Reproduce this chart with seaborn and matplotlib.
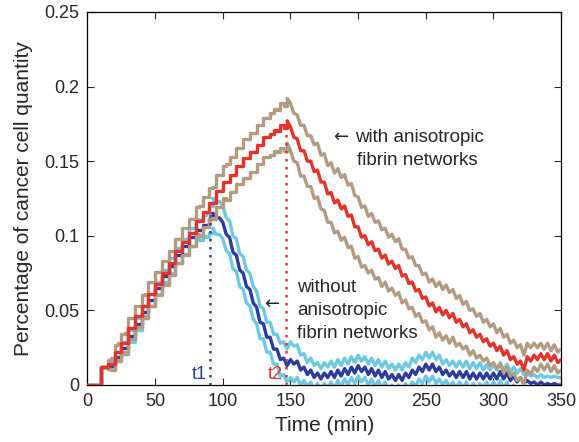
import numpy as np
import matplotlib
matplotlib.use("Agg")
import matplotlib.pyplot as plt
import seaborn as sns

# Time axis in minutes (2.5 min sampling)
time_min = np.arange(0, 350.01, 2.5)

# With anisotropic fibrin networks: mean and standard deviation
with_mean = [
    0, 0, 0, 0, 0.012, 0.012, 0.014, 0.014, 0.022, 0.022,
    0.028, 0.028, 0.038, 0.038, 0.046, 0.046, 0.053, 0.053, 0.061, 0.061,
    0.068, 0.068, 0.075, 0.075, 0.082, 0.082, 0.090, 0.090, 0.096, 0.096,
    0.102, 0.102, 0.110, 0.110, 0.116, 0.116, 0.122, 0.122, 0.130, 0.130,
    0.136, 0.136, 0.141, 0.141, 0.147, 0.147, 0.152, 0.152, 0.156, 0.156,
    0.161, 0.161, 0.166, 0.166, 0.168, 0.171, 0.170, 0.174, 0.172, 0.177,
    0.173, 0.166, 0.165, 0.157, 0.157, 0.150, 0.150, 0.143, 0.144, 0.136,
    0.136, 0.128, 0.129, 0.122, 0.124, 0.118, 0.120, 0.113, 0.114, 0.106,
    0.106, 0.099, 0.100, 0.094, 0.096, 0.090, 0.091, 0.085, 0.087, 0.081,
    0.083, 0.078, 0.080, 0.073, 0.074, 0.068, 0.069, 0.063, 0.064, 0.058,
    0.059, 0.053, 0.055, 0.049, 0.052, 0.047, 0.050, 0.045, 0.048, 0.042,
    0.044, 0.039, 0.041, 0.035, 0.037, 0.032, 0.034, 0.029, 0.031, 0.026,
    0.028, 0.023, 0.026, 0.020, 0.023, 0.017, 0.019, 0.014, 0.016, 0.010,
    0.019, 0.016, 0.020, 0.017, 0.021, 0.017, 0.021, 0.016, 0.020, 0.015,
    0.017,
]
with_std = [
    0, 0, 0, 0, 0, 0, 0.003, 0.004, 0.005, 0.006,
    0.006, 0.007, 0.007, 0.007, 0.007, 0.007, 0.007, 0.008, 0.008, 0.008,
    0.008, 0.008, 0.008, 0.008, 0.008, 0.008, 0.008, 0.008, 0.009, 0.009,
    0.009, 0.009, 0.009, 0.010, 0.010, 0.010, 0.010, 0.011, 0.011, 0.011,
    0.011, 0.012, 0.012, 0.012, 0.012, 0.012, 0.013, 0.013, 0.013, 0.013,
    0.013, 0.013, 0.013, 0.013, 0.014, 0.014, 0.014, 0.015, 0.015, 0.015,
    0.016, 0.016, 0.016, 0.017, 0.017, 0.017, 0.017, 0.018, 0.018, 0.018,
    0.019, 0.019, 0.020, 0.020, 0.021, 0.021, 0.021, 0.021, 0.021, 0.021,
    0.020, 0.020, 0.020, 0.019, 0.019, 0.019, 0.019, 0.019, 0.018, 0.018,
    0.018, 0.018, 0.018, 0.018, 0.017, 0.017, 0.017, 0.017, 0.016, 0.016,
    0.016, 0.016, 0.016, 0.017, 0.017, 0.017, 0.017, 0.017, 0.016, 0.016,
    0.016, 0.015, 0.015, 0.015, 0.014, 0.014, 0.014, 0.013, 0.013, 0.013,
    0.013, 0.012, 0.012, 0.012, 0.011, 0.011, 0.011, 0.011, 0.011, 0.010,
    0.009, 0.009, 0.008, 0.008, 0.007, 0.007, 0.007, 0.007, 0.007, 0.007,
    0.007,
]

# Without anisotropic fibrin networks: mean and standard deviation
without_mean = [
    0, 0, 0, 0, 0.012, 0.012, 0.013, 0.013, 0.019, 0.019,
    0.025, 0.025, 0.033, 0.033, 0.041, 0.041, 0.049, 0.049, 0.057, 0.057,
    0.065, 0.065, 0.073, 0.073, 0.080, 0.080, 0.087, 0.087, 0.093, 0.093,
    0.099, 0.099, 0.104, 0.104, 0.107, 0.107, 0.111, 0.115, 0.112, 0.112,
    0.109, 0.101, 0.099, 0.089, 0.087, 0.077, 0.075, 0.066, 0.064, 0.055,
    0.052, 0.042, 0.041, 0.032, 0.032, 0.024, 0.024, 0.017, 0.018, 0.013,
    0.017, 0.014, 0.016, 0.010, 0.012, 0.007, 0.010, 0.005, 0.008, 0.004,
    0.008, 0.005, 0.009, 0.005, 0.010, 0.006, 0.011, 0.007, 0.012, 0.008,
    0.013, 0.009, 0.012, 0.007, 0.011, 0.006, 0.010, 0.005, 0.009, 0.004,
    0.007, 0.003, 0.007, 0.003, 0.008, 0.005, 0.010, 0.007, 0.012, 0.009,
    0.014, 0.010, 0.014, 0.009, 0.012, 0.007, 0.010, 0.006, 0.009, 0.005,
    0.009, 0.005, 0.009, 0.004, 0.008, 0.004, 0.008, 0.004, 0.008, 0.004,
    0.008, 0.004, 0.009, 0.004, 0.008, 0.003, 0.006, 0.002, 0.005, 0.001,
    0.003, 0.001, 0.002, 0.000, 0.002, 0.000, 0.001, 0.000, 0.001, 0.000,
    0.000,
]
without_std = [
    0, 0, 0, 0, 0, 0, 0.002, 0.003, 0.003, 0.003,
    0.004, 0.004, 0.004, 0.004, 0.004, 0.004, 0.004, 0.004, 0.004, 0.004,
    0.004, 0.004, 0.004, 0.004, 0.005, 0.005, 0.005, 0.005, 0.005, 0.005,
    0.006, 0.006, 0.006, 0.007, 0.007, 0.008, 0.009, 0.010, 0.011, 0.011,
    0.011, 0.011, 0.011, 0.011, 0.011, 0.011, 0.011, 0.011, 0.011, 0.011,
    0.011, 0.011, 0.010, 0.010, 0.010, 0.010, 0.010, 0.011, 0.011, 0.011,
    0.012, 0.012, 0.011, 0.010, 0.009, 0.008, 0.008, 0.008, 0.007, 0.007,
    0.007, 0.007, 0.007, 0.007, 0.007, 0.007, 0.007, 0.007, 0.007, 0.007,
    0.007, 0.007, 0.007, 0.007, 0.007, 0.007, 0.007, 0.007, 0.007, 0.007,
    0.007, 0.007, 0.007, 0.007, 0.007, 0.007, 0.008, 0.008, 0.008, 0.008,
    0.008, 0.008, 0.008, 0.008, 0.008, 0.007, 0.007, 0.007, 0.007, 0.007,
    0.007, 0.007, 0.007, 0.007, 0.007, 0.007, 0.007, 0.006, 0.006, 0.006,
    0.006, 0.006, 0.006, 0.006, 0.006, 0.006, 0.006, 0.006, 0.006, 0.006,
    0.005, 0.005, 0.005, 0.005, 0.005, 0.005, 0.005, 0.005, 0.005, 0.005,
    0.005,
]

# Characteristic times (min) and the values reached there
t1, t1_value = 90.5, 0.115
t2, t2_value = 147.0, 0.176

# Sample index where each growth phase (staircase) ends
with_peak_idx = 59
without_peak_idx = 37

x_ticks = [0, 50, 100, 150, 200, 250, 300, 350]
y_ticks = [0, 0.05, 0.1, 0.15, 0.2, 0.25]
y_tick_labels = ["0", "0.05", "0.1", "0.15", "0.2", "0.25"]

RED = "#E5322A"
TAN = "#B39B82"
NAVY = "#2C3C9E"
CYAN = "#6DC9E2"

sns.set_style("ticks")
plt.rcParams["font.family"] = ["Liberation Sans", "DejaVu Sans"]
plt.rcParams["mathtext.fontset"] = "dejavusans"

fig = plt.figure(figsize=(5.79, 4.42), dpi=100)
ax = fig.add_axes([0.1511, 0.129, 0.818, 0.844])

wm = np.array(with_mean)
ws = np.array(with_std)
om = np.array(without_mean)
os_ = np.array(without_std)

LW = 2.4


def draw_curve(y, split, color, z):
    # staircase while cells accumulate, jagged line once they decline
    sns.lineplot(x=time_min[:split + 1], y=y[:split + 1], color=color, lw=LW,
                 drawstyle="steps-post", estimator=None, ax=ax, legend=False, zorder=z)
    sns.lineplot(x=time_min[split:], y=y[split:], color=color, lw=LW,
                 estimator=None, ax=ax, legend=False, zorder=z)


draw_curve(om + os_, without_peak_idx, CYAN, 2)
draw_curve(om - os_, without_peak_idx, CYAN, 2)
draw_curve(om, without_peak_idx, NAVY, 3)
draw_curve(wm + ws, with_peak_idx, TAN, 4)
draw_curve(wm - ws, with_peak_idx, TAN, 4)
draw_curve(wm, with_peak_idx, RED, 5)

# Dotted markers for t1 and t2
ax.vlines(t1, 0, t1_value, colors=NAVY, linestyles=(0, (1, 2.2)), lw=1.8, zorder=6)
ax.vlines(t2, 0, t2_value, colors=RED, linestyles=(0, (1, 2.2)), lw=1.8, zorder=6)
ax.text(t1 - 2.5, 0.0015, "t1", color=NAVY, fontsize=13, ha="right", va="bottom")
ax.text(t2 - 2.5, 0.0015, "t2", color=RED, fontsize=13, ha="right", va="bottom")

# Annotations
ax.text(179, 0.1665, r"$\leftarrow$", fontsize=13, ha="left", va="center")
ax.text(197.5, 0.166, "with anisotropic", fontsize=13.5, ha="left", va="center")
ax.text(199.5, 0.1505, "fibrin networks", fontsize=13.5, ha="left", va="center")
ax.text(155, 0.065, "without", fontsize=13.5, ha="left", va="center")
ax.text(155, 0.0497, "anisotropic", fontsize=13.5, ha="left", va="center")
ax.text(155, 0.0345, "fibrin networks", fontsize=13.5, ha="left", va="center")
ax.text(135.5, 0.0545, r"$\leftarrow$", fontsize=13, ha="center", va="center")

ax.set_xlim(0, 350)
ax.set_ylim(0, 0.25)
ax.set_xticks(x_ticks)
ax.set_xticklabels([str(v) for v in x_ticks])
ax.set_yticks(y_ticks)
ax.set_yticklabels(y_tick_labels)
ax.tick_params(direction="in", length=5, width=0.8, labelsize=13, top=True, right=True, pad=6)
for s in ax.spines.values():
    s.set_visible(True)
    s.set_linewidth(0.9)
    s.set_color("black")
ax.set_xlabel("Time (min)", fontsize=15, labelpad=4)
ax.set_ylabel("Percentage of cancer cell quantity", fontsize=15, labelpad=8)

fig.savefig("out.png", dpi=100)
